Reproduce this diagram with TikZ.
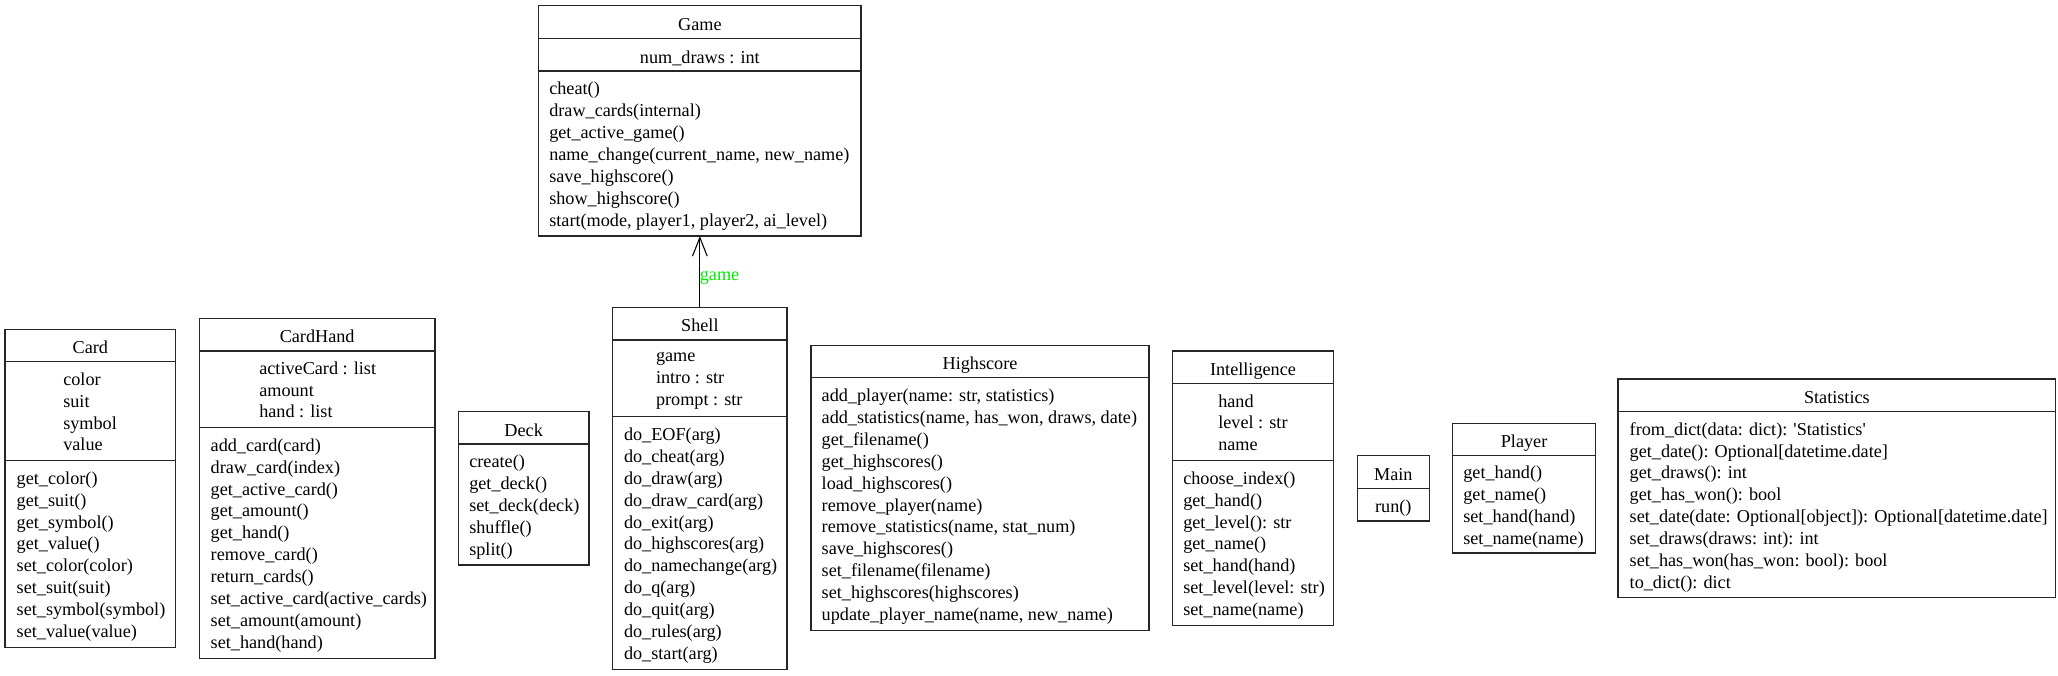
\documentclass[tikz,border=0pt]{standalone}
\usepackage{fontspec}
\setmainfont{Liberation Serif}
\usetikzlibrary{fit,arrows.meta}
\tikzset{
  classbox/.style={draw=black!85, line width=0.8pt, inner sep=0pt, outer sep=0pt},
  sepline/.style={draw=black!85, line width=0.8pt},
  umltext/.style={inner sep=0pt, outer sep=0pt, font=\fontsize{13.65pt}{16.4pt}\selectfont,
    yshift=-2.9pt, execute at begin node=\strut, execute at end node=\strut},
  block/.style={umltext, align=left, anchor=west},
  ctitle/.style={umltext, anchor=center},
  assoc/.style={draw=black, line width=0.8pt, -{Straight Barb[length=14pt,width=11pt,line width=0.8pt]}},
  elabel/.style={umltext, text={rgb,255:red,0;green,235;blue,0}, anchor=west}
}
\newcommand\umlbox[5]{\node[classbox, fit={(#2,#3) (#4,#5)}] (#1) {};}
\newcommand\umlsep[2]{\draw[sepline] (#1.west |- 0,#2) -- (#1.east |- 0,#2);}
\begin{document}
\begin{tikzpicture}[x=0.75pt,y=-0.75pt]
\useasboundingbox (0,0) rectangle (2058,675);

% Card
\umlbox{card}{5}{329.3}{175.7}{647.3}
\umlsep{card}{361.7}\umlsep{card}{460.7}
\node[ctitle] (card-t) at (90.35,345.5) {Card};
\node[block] (card-a) at (63.3,411.2) {color\\suit\\symbol\\value};
\node[block] (card-m) at (16.7,554) {get\_color()\\get\_suit()\\get\_symbol()\\get\_value()\\set\_color(color)\\set\_suit(suit)\\set\_symbol(symbol)\\set\_value(value)};

% CardHand
\umlbox{cardhand}{199.3}{318.3}{435}{658.3}
\umlsep{cardhand}{351}\umlsep{cardhand}{427.3}
\node[ctitle] (cardhand-t) at (317.15,334.65) {CardHand};
\node[block] (cardhand-a) at (259.3,389.15) {activeCard : list\\amount\\hand : list};
\node[block] (cardhand-m) at (210.7,542.8) {add\_card(card)\\draw\_card(index)\\get\_active\_card()\\get\_amount()\\get\_hand()\\remove\_card()\\return\_cards()\\set\_active\_card(active\_cards)\\set\_amount(amount)\\set\_hand(hand)};

% Deck
\umlbox{deck}{458.3}{411.7}{589}{565}
\umlsep{deck}{444}
\node[ctitle] (deck-t) at (523.65,427.85) {Deck};
\node[block] (deck-m) at (469.3,504.5) {create()\\get\_deck()\\set\_deck(deck)\\shuffle()\\split()};

% Game
\umlbox{game}{538.7}{5.7}{861}{236}
\umlsep{game}{38.7}\umlsep{game}{71}
\node[ctitle] (game-t) at (699.85,22.2) {Game};
\node[ctitle] (game-a) at (699.85,54.85) {num\_draws : int};
\node[block] (game-m) at (549.3,153.5) {cheat()\\draw\_cards(internal)\\get\_active\_game()\\name\_change(current\_name, new\_name)\\save\_highscore()\\show\_highscore()\\start(mode, player1, player2, ai\_level)};

% Shell
\umlbox{shell}{612.7}{307.3}{787}{669.3}
\umlsep{shell}{340}\umlsep{shell}{416.7}
\node[ctitle] (shell-t) at (699.85,323.65) {Shell};
\node[block] (shell-a) at (656,378.35) {game\\intro : str\\prompt : str};
\node[block] (shell-m) at (624,543) {do\_EOF(arg)\\do\_cheat(arg)\\do\_draw(arg)\\do\_draw\_card(arg)\\do\_exit(arg)\\do\_highscores(arg)\\do\_namechange(arg)\\do\_q(arg)\\do\_quit(arg)\\do\_rules(arg)\\do\_start(arg)};

% association
\draw[assoc] (shell.north) -- node[elabel, pos=0.49] (game-lbl) {game} (game.south);

% Highscore
\umlbox{highscore}{811}{345.7}{1149}{630.7}
\umlsep{highscore}{377.7}
\node[ctitle] (highscore-t) at (980,361.7) {Highscore};
\node[block] (highscore-m) at (821.7,504.2) {add\_player(name: str, statistics)\\add\_statistics(name, has\_won, draws, date)\\get\_filename()\\get\_highscores()\\load\_highscores()\\remove\_player(name)\\remove\_statistics(name, stat\_num)\\save\_highscores()\\set\_filename(filename)\\set\_highscores(highscores)\\update\_player\_name(name, new\_name)};

% Intelligence
\umlbox{intel}{1172.7}{351}{1333.3}{625.3}
\umlsep{intel}{383.3}\umlsep{intel}{460.7}
\node[ctitle] (intel-t) at (1253,367.15) {Intelligence};
\node[block] (intel-a) at (1218.3,422) {hand\\level : str\\name};
\node[block] (intel-m) at (1183.3,543) {choose\_index()\\get\_hand()\\get\_level(): str\\get\_name()\\set\_hand(hand)\\set\_level(level: str)\\set\_name(name)};

% Main
\umlbox{main}{1357.3}{455.3}{1429.3}{521}
\umlsep{main}{488.3}
\node[ctitle] (main-t) at (1393.3,471.8) {Main};
\node[ctitle] (main-m) at (1393.3,504.65) {run()};

% Player
\umlbox{player}{1452.7}{423.3}{1595.5}{553}
\umlsep{player}{455.8}
\node[ctitle] (player-t) at (1524.1,439.5) {Player};
\node[block] (player-m) at (1463.3,504.4) {get\_hand()\\get\_name()\\set\_hand(hand)\\set\_name(name)};

% Statistics
\umlbox{stats}{1618}{379}{2055.7}{597.7}
\umlsep{stats}{411.7}
\node[ctitle] (stats-t) at (1836.85,395.35) {Statistics};
\node[block] (stats-m) at (1629.7,504.7) {from\_dict(data: dict): \textquotesingle Statistics\textquotesingle\\get\_date(): Optional[datetime.date]\\get\_draws(): int\\get\_has\_won(): bool\\set\_date(date: Optional[object]): Optional[datetime.date]\\set\_draws(draws: int): int\\set\_has\_won(has\_won: bool): bool\\to\_dict(): dict};
\end{tikzpicture}
\end{document}
